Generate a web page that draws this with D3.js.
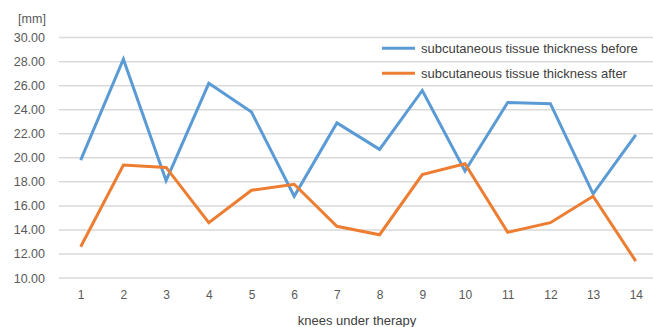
<!DOCTYPE html>
<html><head><meta charset="utf-8">
<script src="https://cdn.jsdelivr.net/npm/d3@7"></script>
<style>body{margin:0;background:#fff}svg{display:block}text{font-family:"Liberation Sans",Arial,sans-serif}</style>
</head><body>
<svg id="c" width="653" height="327"></svg>
<script>
const categories = ["1","2","3","4","5","6","7","8","9","10","11","12","13","14"];
const before = [19.8,28.2,18.1,26.2,23.8,16.8,22.9,20.7,25.6,18.9,24.6,24.5,17.0,21.9];
const after  = [12.6,19.4,19.2,14.6,17.3,17.8,14.3,13.6,18.6,19.5,13.8,14.6,16.8,11.4];
const yTicks = [10,12,14,16,18,20,22,24,26,28,30];
const seriesNames = ["subcutaneous tissue thickness before","subcutaneous tissue thickness after"];
const colors = ["#5b9bd5","#ed7d31"];

const svg = d3.select("#c");
const x = d3.scalePoint().domain(categories).range([80.7, 635.8]);
const y = d3.scaleLinear().domain([10,30]).range([278, 37.6]);

// gridlines
svg.append("g").selectAll("line").data(yTicks).join("line")
  .attr("x1",59).attr("x2",657)
  .attr("y1",d=>y(d)).attr("y2",d=>y(d))
  .attr("stroke","#d9d9d9").attr("stroke-width",1.5);

// y axis labels
const yAxis = d3.axisLeft(y).tickValues(yTicks).tickFormat(d3.format(".2f")).tickSize(0).tickPadding(0);
const gy = svg.append("g").attr("transform","translate(45,0)").call(yAxis);
gy.select(".domain").remove();
gy.selectAll("text").attr("font-size",12.5).attr("fill","#595959").attr("font-family","Liberation Sans, Arial, sans-serif");

svg.append("text").attr("x",32).attr("y",23).attr("text-anchor","middle")
  .attr("font-size",12.5).attr("fill","#595959").text("[mm]");

// x axis labels
const xAxis = d3.axisBottom(x).tickSize(0).tickPadding(0);
const gx = svg.append("g").attr("transform","translate(0,290)").call(xAxis);
gx.select(".domain").remove();
gx.selectAll("text").attr("font-size",12).attr("fill","#595959").attr("font-family","Liberation Sans, Arial, sans-serif");

svg.append("text").attr("x",357).attr("y",325).attr("text-anchor","middle")
  .attr("font-size",13).attr("fill","#404040").text("knees under therapy");

// lines
const line = d3.line().x((d,i)=>x(categories[i])).y(d=>y(d));
[before, after].forEach((s,k)=>{
  svg.append("path").datum(s).attr("d",line).attr("fill","none")
    .attr("stroke",colors[k]).attr("stroke-width",3).attr("stroke-linejoin","miter");
});

// legend
const lg = svg.append("g");
seriesNames.forEach((n,k)=>{
  const yy = [48.3,73.3][k];
  lg.append("line").attr("x1",382).attr("x2",415).attr("y1",yy).attr("y2",yy)
    .attr("stroke",colors[k]).attr("stroke-width",3);
  lg.append("text").attr("x",421).attr("y",yy+4.5).attr("font-size",13)
    .attr("fill","#404040").text(n);
});
</script>
</body></html>
